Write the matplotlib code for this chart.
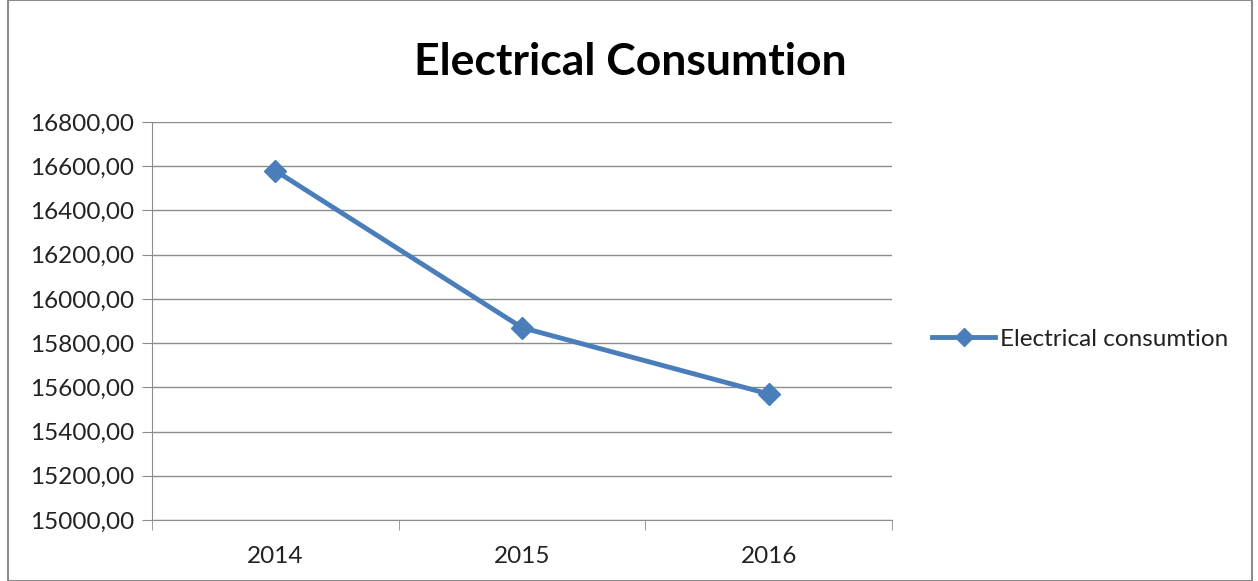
import matplotlib
matplotlib.use("Agg")
import matplotlib.pyplot as plt
from matplotlib.patches import Rectangle
from matplotlib.ticker import FuncFormatter, FixedLocator

years = ["2014", "2015", "2016"]
consumption = [16580, 15870, 15570]
y_ticks = [15000, 15200, 15400, 15600, 15800, 16000, 16200, 16400, 16600, 16800]

plt.rcParams['font.family'] = ['Lato', 'DejaVu Sans']

fig = plt.figure(figsize=(12.58, 5.81), dpi=100)
ax = fig.add_axes([152/1258, 1-520/581, (892-152)/1258, (520-122)/581])

line_color = '#4a7ebb'
x = list(range(len(years)))
ax.plot(x, consumption, color=line_color, lw=3.5, marker='D', ms=11,
        label="Electrical consumtion", zorder=3)

ax.set_xlim(-0.5, len(years) - 0.5)
ax.set_ylim(y_ticks[0], y_ticks[-1])
ax.set_yticks(y_ticks)
ax.yaxis.set_major_formatter(FuncFormatter(lambda v, p: f"{v:.2f}".replace('.', ',')))
ax.grid(axis='y', color='#8c8c8c', lw=1)
ax.set_axisbelow(True)

ax.set_xticks(x)
ax.set_xticklabels(years)
ax.xaxis.set_minor_locator(FixedLocator([i - 0.5 for i in range(len(years) + 1)]))
ax.tick_params(axis='x', which='major', length=0, pad=19, labelsize=17.5, colors='#222222')
ax.tick_params(axis='x', which='minor', length=7, color='#8c8c8c', direction='out')
ax.tick_params(axis='y', length=7, color='#8c8c8c', direction='out', labelsize=17.5,
               labelcolor='#222222', pad=6)

for s in ['top', 'right']:
    ax.spines[s].set_visible(False)
for s in ['left', 'bottom']:
    ax.spines[s].set_color('#8c8c8c')

fig.text(630/1258, 1-62/581, "Electrical Consumtion", ha='center', va='center',
         fontsize=32, fontweight='bold', color='black')

leg = fig.legend(loc='center left', bbox_to_anchor=(932/1258, 1-339/581), frameon=False,
                 fontsize=17.5, handlelength=2.6, handletextpad=0.2, borderaxespad=0,
                 borderpad=0, markerscale=0.8)
for t in leg.get_texts():
    t.set_color('#222222')

fig.patches.append(Rectangle((8/1258, 0), 1244/1258, 1, transform=fig.transFigure,
                             fill=False, ec='#8c8c8c', lw=1.5))

fig.savefig("out.png", dpi=100)
